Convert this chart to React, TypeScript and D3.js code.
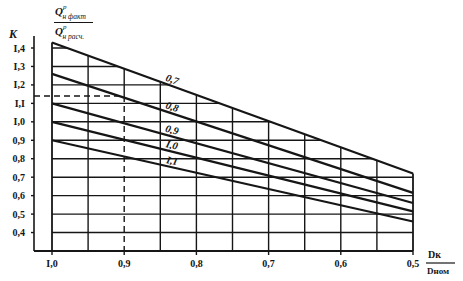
import React from "react";
import * as d3 from "d3";

// Series: ratio labels of the family of lines, K at D=1.0 and at D=0.5
const seriesLabels = ["0,7", "0,8", "0,9", "I,0", "I,I"];
const kAtStart = [1.43, 1.26, 1.1, 1.0, 0.9];
const kAtEnd = [0.72, 0.615, 0.56, 0.515, 0.46];
const xStart = 1.0;
const xEnd = 0.5;

const yTicks = [0.4, 0.5, 0.6, 0.7, 0.8, 0.9, 1.0, 1.1, 1.2, 1.3, 1.4];
const yTickLabels = ["0,4", "0,5", "0,6", "0,7", "0,8", "0,9", "I,0", "I,I", "I,2", "I,3", "I,4"];
const xTicks = [1.0, 0.9, 0.8, 0.7, 0.6, 0.5];
const xTickLabels = ["I,0", "0,9", "0,8", "0,7", "0,6", "0,5"];
const xGrid = [1.0, 0.95, 0.9, 0.85, 0.8, 0.75, 0.7, 0.65, 0.6, 0.55, 0.5];
const readX = 0.9;
const readK = 1.14;
const labelAt = 0.835;

export default function App() {
  const x = d3.scaleLinear().domain([1.0, 0.5]).range([52, 413]);
  const y = d3.scaleLinear().domain([0.3, 1.4]).range([251, 48]);
  const axisX = 34;
  const bottom = y(0.3);
  const ink = "#161616";

  const kAt = (i: number, d: number) =>
    kAtStart[i] + ((d - xStart) / (xEnd - xStart)) * (kAtEnd[i] - kAtStart[i]);

  const line = d3
    .line<[number, number]>()
    .x((d) => x(d[0]))
    .y((d) => y(d[1]));

  const clipPoly = [
    [x(xStart), bottom],
    [x(xStart), y(kAtStart[0])],
    [x(xEnd), y(kAtEnd[0])],
    [x(xEnd), bottom],
  ]
    .map((p) => p.join(","))
    .join(" ");

  const serif = "'Liberation Serif', 'DejaVu Serif', serif";

  return (
    <svg
      width={463}
      height={281}
      style={{ position: "absolute", left: 0, top: 0, background: "#fff" }}
    >
      <defs>
        <clipPath id="gridClip">
          <polygon points={clipPoly} />
        </clipPath>
      </defs>

      {/* horizontal grid */}
      <g clipPath="url(#gridClip)">
        {yTicks.map((t) => (
          <line
            key={t}
            x1={x(xStart)}
            x2={x(xEnd)}
            y1={y(t)}
            y2={y(t)}
            stroke={ink}
            strokeWidth={1.4}
          />
        ))}
      </g>

      {/* vertical grid */}
      {xGrid.map((g) => {
        const top = y(kAt(0, g));
        if (g === readX) {
          return (
            <g key={g}>
              <line x1={x(g)} x2={x(g)} y1={top} y2={y(readK)} stroke={ink} strokeWidth={1.4} />
              <line
                x1={x(g)}
                x2={x(g)}
                y1={y(readK)}
                y2={bottom}
                stroke={ink}
                strokeWidth={1.4}
                strokeDasharray="6,4"
              />
            </g>
          );
        }
        return (
          <line
            key={g}
            x1={x(g)}
            x2={x(g)}
            y1={top}
            y2={bottom}
            stroke={ink}
            strokeWidth={g === xStart || g === xEnd ? 1.8 : 1.4}
          />
        );
      })}

      {/* dashed reading line */}
      <line
        x1={axisX}
        x2={x(readX)}
        y1={y(readK)}
        y2={y(readK)}
        stroke={ink}
        strokeWidth={1.4}
        strokeDasharray="6,4"
      />

      {/* series lines */}
      {seriesLabels.map((s, i) => (
        <path
          key={s}
          d={line([
            [xStart, kAtStart[i]],
            [xEnd, kAtEnd[i]],
          ]) || ""}
          fill="none"
          stroke={ink}
          strokeWidth={2.2}
        />
      ))}

      {/* series labels */}
      {seriesLabels.map((s, i) => {
        const px = x(labelAt);
        const py = y(kAt(i, labelAt)) - 3;
        const slope = (y(kAtEnd[i]) - y(kAtStart[i])) / (x(xEnd) - x(xStart));
        const ang = (Math.atan(slope) * 180) / Math.PI;
        return (
          <text
            key={s}
            x={px}
            y={py}
            transform={`rotate(${ang},${px},${py})`}
            fontFamily={serif}
            fontStyle="italic"
            fontWeight="bold"
            fontSize={10.5}
            textAnchor="middle"
            fill={ink}
          >
            {s}
          </text>
        );
      })}

      {/* y axis */}
      <line x1={axisX} x2={axisX} y1={36} y2={bottom} stroke={ink} strokeWidth={1.6} />
      {yTicks.map((t, i) => (
        <g key={t}>
          <line x1={axisX - 3} x2={axisX} y1={y(t)} y2={y(t)} stroke={ink} strokeWidth={1.4} />
          <text
            x={25}
            y={y(t) + 3.5}
            textAnchor="end"
            fontFamily={serif}
            fontWeight="bold"
            fontSize={10}
            fill={ink}
          >
            {yTickLabels[i]}
          </text>
        </g>
      ))}

      {/* x axis */}
      <line x1={axisX} x2={x(xEnd)} y1={bottom} y2={bottom} stroke={ink} strokeWidth={1.8} />
      {xTicks.map((t, i) => (
        <g key={t}>
          <line x1={x(t)} x2={x(t)} y1={bottom} y2={bottom + 4} stroke={ink} strokeWidth={1.4} />
          <text
            x={x(t)}
            y={bottom + 16}
            textAnchor="middle"
            fontFamily={serif}
            fontWeight="bold"
            fontSize={10}
            fill={ink}
          >
            {xTickLabels[i]}
          </text>
        </g>
      ))}

      {/* y title */}
      <text x={9} y={38} fontFamily={serif} fontStyle="italic" fontWeight="bold" fontSize={12} fill={ink}>
        K
      </text>

      {/* ratio title */}
      <g fontFamily={serif} fontStyle="italic" fill={ink}>
        <text x={55} y={15} fontSize={11} fontWeight="bold">
          Q
          <tspan dy={-6} fontSize={7} fontWeight="normal">р</tspan>
          <tspan dx={-4} dy={10} fontSize={7.5} fontWeight="normal">н факт</tspan>
        </text>
        <line x1={54} x2={93} y1={22.5} y2={22.5} stroke={ink} strokeWidth={1.2} />
        <text x={55} y={35} fontSize={11} fontWeight="bold">
          Q
          <tspan dy={-6} fontSize={7} fontWeight="normal">р</tspan>
          <tspan dx={-4} dy={10} fontSize={7.5} fontWeight="normal">н расч.</tspan>
        </text>
      </g>

      {/* x title */}
      <g fontFamily={serif} fontWeight="bold" fill={ink}>
        <text x={428} y={258} fontSize={10}>Dк</text>
        <line x1={426} x2={455} y1={263} y2={263} stroke={ink} strokeWidth={1.2} />
        <text x={427} y={274} fontSize={9}>Dном</text>
      </g>
    </svg>
  );
}
